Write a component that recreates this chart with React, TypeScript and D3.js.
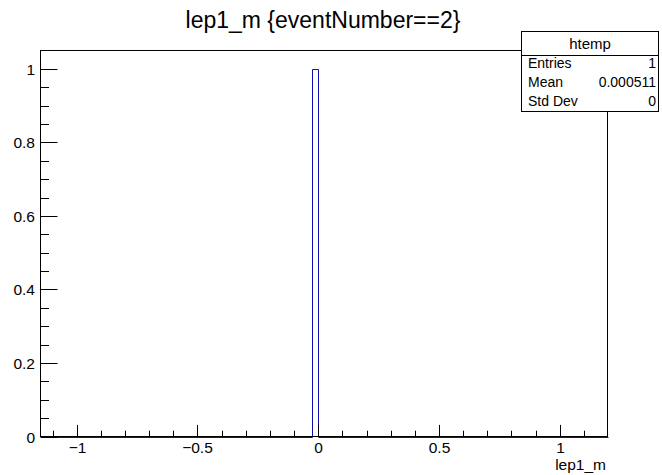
import React from "react";
import * as d3 from "d3";

// Histogram of lep1_m for eventNumber==2 (single filled bin)
const xDomain: [number, number] = [-1.15, 1.1975];
const yDomain: [number, number] = [0, 1.05];
const binLow = -0.0246;
const binHigh = -0.0011;
const binCount = 1;

const xMajorTicks = [-1, -0.5, 0, 0.5, 1];
const xTickLabels = ["\u22121", "\u22120.5", "0", "0.5", "1"];
const xMinorTicks = [-1.1, -0.9, -0.8, -0.7, -0.6, -0.4, -0.3, -0.2, -0.1, 0.1, 0.2, 0.3, 0.4, 0.6, 0.7, 0.8, 0.9, 1.1];
const yMajorTicks = [0, 0.2, 0.4, 0.6, 0.8, 1];
const yTickLabels = ["0", "0.2", "0.4", "0.6", "0.8", "1"];
const yMinorTicks = [0.05, 0.1, 0.15, 0.25, 0.3, 0.35, 0.45, 0.5, 0.55, 0.65, 0.7, 0.75, 0.85, 0.9, 0.95];

const statsName = "htemp";
const statsLabels = ["Entries", "Mean", "Std Dev"];
const statsValues = ["1", "0.000511", "0"];

const titleText = "lep1_m {eventNumber==2}";
const xTitle = "lep1_m";

const W = 662;
const H = 475;
const frame = { left: 40.5, right: 607.5, top: 50.5, bottom: 436.5 };
const font = "'Liberation Sans', Arial, Helvetica, sans-serif";

export default function App() {
  const x = d3.scaleLinear().domain(xDomain).range([frame.left, frame.right]);
  const y = d3.scaleLinear().domain(yDomain).range([frame.bottom, frame.top]);

  // Outline of the histogram as a step line across the full range
  const steps: [number, number][] = [
    [xDomain[0], 0],
    [binLow, 0],
    [binLow, binCount],
    [binHigh, binCount],
    [binHigh, 0],
    [xDomain[1], 0],
  ];
  const line = d3
    .line<[number, number]>()
    .x((d) => Math.round(x(d[0])) + 0.5)
    .y((d) => Math.round(y(d[1])) + 0.5);

  const xMajLen = 11.6;
  const xMinLen = 5.8;
  const yMajLen = 17;
  const yMinLen = 8.5;

  const box = { x: 521.5, y: 31.5, w: 137, h: 80, head: 24 };

  return (
    <svg
      width={W}
      height={H}
      style={{ position: "absolute", left: 0, top: 0, background: "#fff" }}
      fontFamily={font}
    >
      <rect x={0} y={0} width={W} height={H} fill="#fff" />
      {/* title */}
      <text x={323} y={28} fontSize={23} textAnchor="middle" fill="#000">
        {titleText}
      </text>

      {/* histogram */}
      <path d={line(steps) || ""} fill="none" stroke="#1010b0" strokeWidth={1} />

      {/* frame */}
      <rect
        x={frame.left}
        y={frame.top}
        width={frame.right - frame.left}
        height={frame.bottom - frame.top}
        fill="none"
        stroke="#000"
        strokeWidth={1}
      />

      {/* x axis ticks */}
      {xMajorTicks.map((t, i) => {
        const px = Math.round(x(t)) + 0.5;
        return (
          <g key={"xm" + i}>
            <line x1={px} x2={px} y1={frame.bottom} y2={frame.bottom - xMajLen} stroke="#000" />
            <text x={px} y={453} fontSize={15.5} textAnchor="middle" fill="#000">
              {xTickLabels[i]}
            </text>
          </g>
        );
      })}
      {xMinorTicks.map((t, i) => {
        const px = Math.round(x(t)) + 0.5;
        return <line key={"xn" + i} x1={px} x2={px} y1={frame.bottom} y2={frame.bottom - xMinLen} stroke="#000" />;
      })}

      {/* y axis ticks */}
      {yMajorTicks.map((t, i) => {
        const py = Math.round(y(t)) + 0.5;
        return (
          <g key={"ym" + i}>
            <line x1={frame.left} x2={frame.left + yMajLen} y1={py} y2={py} stroke="#000" />
            <text x={35} y={py + 5.5} fontSize={15.5} textAnchor="end" fill="#000">
              {yTickLabels[i]}
            </text>
          </g>
        );
      })}
      {yMinorTicks.map((t, i) => {
        const py = Math.round(y(t)) + 0.5;
        return <line key={"yn" + i} x1={frame.left} x2={frame.left + yMinLen} y1={py} y2={py} stroke="#000" />;
      })}

      {/* axis title */}
      <text x={606} y={470} fontSize={15.5} textAnchor="end" fill="#000">
        {xTitle}
      </text>

      {/* statistics box */}
      <rect x={box.x} y={box.y} width={box.w} height={box.h} fill="#fff" stroke="#000" strokeWidth={1} />
      <line x1={box.x} x2={box.x + box.w} y1={box.y + box.head} y2={box.y + box.head} stroke="#000" />
      <text x={box.x + box.w / 2} y={48.5} fontSize={15} textAnchor="middle" fill="#000">
        {statsName}
      </text>
      {statsLabels.map((s, i) => (
        <g key={"st" + i}>
          <text x={528} y={68 + i * 19} fontSize={14} fill="#000">
            {s}
          </text>
          <text x={656} y={68 + i * 19} fontSize={14} textAnchor="end" fill="#000">
            {statsValues[i]}
          </text>
        </g>
      ))}
    </svg>
  );
}
